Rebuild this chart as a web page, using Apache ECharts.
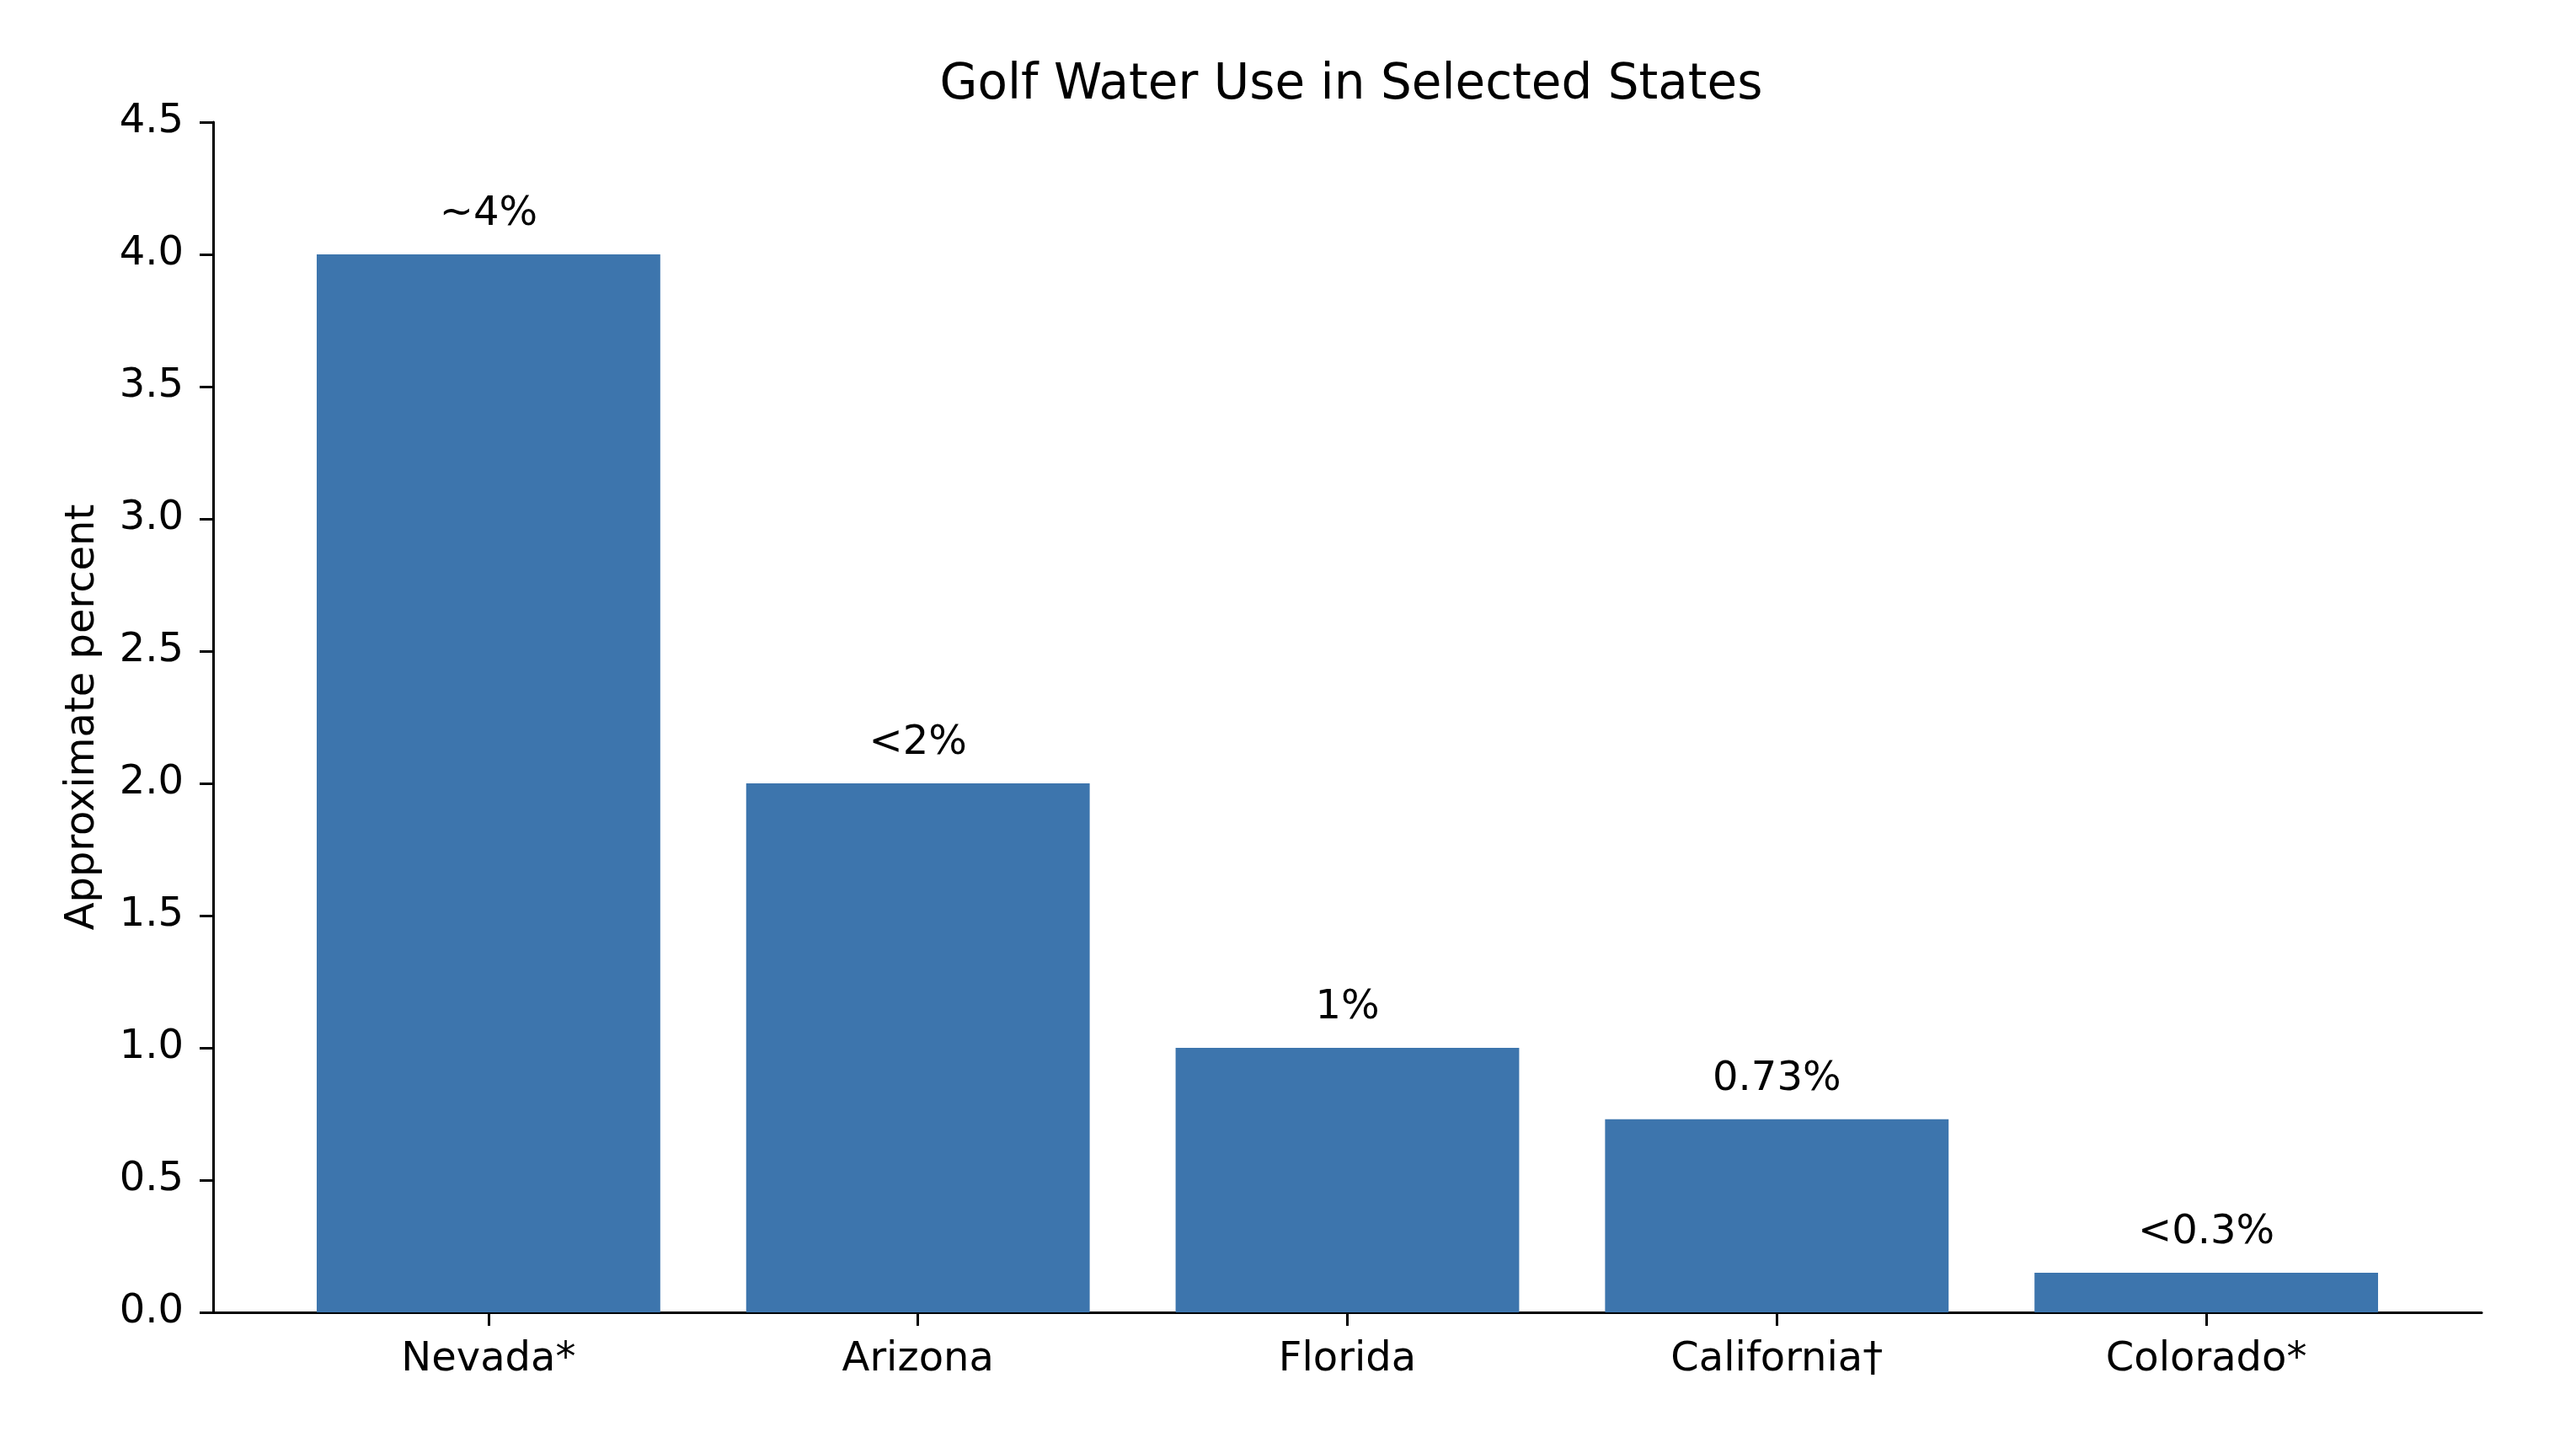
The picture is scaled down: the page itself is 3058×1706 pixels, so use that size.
<!DOCTYPE html>
<html>
<head>
<meta charset="utf-8">
<title>Golf Water Use in Selected States</title>
<script src="https://cdn.jsdelivr.net/npm/echarts@6/dist/echarts.min.js"></script>
<style>
	html, body { margin: 0; padding: 0; background: #fff; }
	#chart { width: 3058px; height: 1706px; }
</style>
</head>
<body>
<div id="chart"></div>
<script>
// 数据
var states = ['Nevada*', 'Arizona', 'Florida', 'California\u2020', 'Colorado*'];
var percents = [4.0, 2.0, 1.0, 0.73, 0.15];
var barLabels = ['~4%', '<2%', '1%', '0.73%', '<0.3%'];
var yTicks = [0, 0.5, 1.0, 1.5, 2.0, 2.5, 3.0, 3.5, 4.0, 4.5];

var font = 'DejaVu Sans';

function renderBarChart() {
	var myChart = echarts.init(document.getElementById('chart'));
	var option = {
		backgroundColor: '#fff',
		animation: false,
		title: {
			text: 'Golf Water Use in Selected States',
			left: 1599,
			top: 68,
			textAlign: 'center',
			textStyle: { fontFamily: font, fontSize: 58, fontWeight: 'normal', color: '#000' }
		},
		grid: [
			{ left: 253, right: 112, top: 145, bottom: 148 },
			{ left: 325, right: 184, top: 145, bottom: 148 }
		],
		xAxis: [{
			gridIndex: 0,
			type: 'value',
			min: -0.64,
			max: 4.64,
			axisLine: { show: true, onZero: false, lineStyle: { color: '#000', width: 3 } },
			axisTick: { show: false },
			axisLabel: { show: false },
			splitLine: { show: false }
		}, {
			gridIndex: 1,
			type: 'category',
			data: states,
			axisLine: { show: false },
			axisTick: { show: true, alignWithLabel: true, length: 16, lineStyle: { color: '#000', width: 3 } },
			axisLabel: { margin: 33, fontFamily: font, fontSize: 48, color: '#000' },
			splitLine: { show: false }
		}],
		yAxis: [{
			gridIndex: 0,
			type: 'value',
			min: yTicks[0],
			max: yTicks[yTicks.length - 1],
			interval: 0.5,
			name: 'Approximate percent',
			nameLocation: 'middle',
			nameGap: 130,
			nameTextStyle: { fontFamily: font, fontSize: 48, color: '#000' },
			axisLine: { show: true, onZero: false, lineStyle: { color: '#000', width: 3 } },
			axisTick: { show: true, length: 16, lineStyle: { color: '#000', width: 3 } },
			axisLabel: {
				margin: 35,
				fontFamily: font,
				fontSize: 48,
				color: '#000',
				formatter: function(v) { return v.toFixed(1); }
			},
			splitLine: { show: false }
		}, {
			gridIndex: 1,
			type: 'value',
			min: yTicks[0],
			max: yTicks[yTicks.length - 1],
			show: false,
			splitLine: { show: false }
		}],
		series: [{
			type: 'bar',
			xAxisIndex: 1,
			yAxisIndex: 1,
			barWidth: '80%',
			itemStyle: { color: '#3d75ad' },
			label: {
				show: true,
				position: 'top',
				distance: 23,
				fontFamily: font,
				fontSize: 48,
				color: '#000',
				formatter: function(params) {
					return barLabels[params.dataIndex];
				}
			},
			data: percents
		}]
	};
	myChart.setOption(option);
	window.onresize = function() {
		myChart.resize();
	};
}

renderBarChart();
</script>
</body>
</html>
